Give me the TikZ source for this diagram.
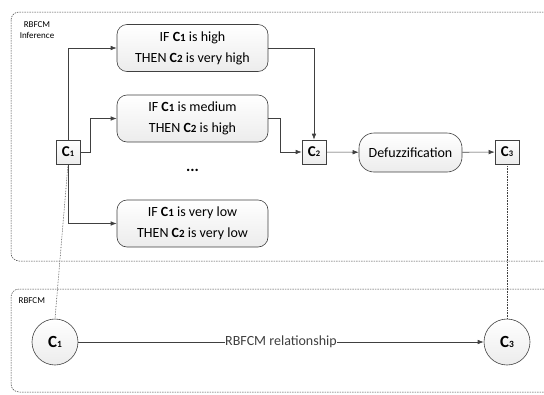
\documentclass[tikz,border=0pt]{standalone}
\usepackage{fontspec}
\setmainfont{Carlito}
\usepackage{xcolor}
\usepackage{tikz}
\usetikzlibrary{arrows.meta,shapes}
\definecolor{lnc}{HTML}{404040}
\newcommand\Cvar[2][11]{\textbf{C{\fontsize{#1}{#1}\selectfont #2}}}

\begin{document}
\begin{tikzpicture}[x=1pt,y=-1pt,>={Latex[length=6pt,width=4.5pt]},line width=0.6pt,
 region/.style={draw=lnc,dash pattern=on 1.5pt off 1pt,line width=0.5pt,rounded corners=8pt},
 rule/.style={draw=lnc,rounded corners=10pt,top color=white,bottom color=gray!15,
  minimum width=151pt,minimum height=47pt,align=center,font=\fontsize{14}{21}\selectfont},
 sq/.style={draw=lnc,top color=white,bottom color=gray!15,minimum size=24pt,inner sep=0pt,
  font=\fontsize{15}{15}\selectfont},
 circ/.style={circle,draw=lnc,top color=white,bottom color=gray!15,minimum size=46pt,inner sep=0pt,
  font=\fontsize{17}{17}\selectfont},
 small/.style={font=\fontsize{9}{11}\selectfont}]
\useasboundingbox (0,0) rectangle (544,394);
% regions
\draw[region](11,12) rectangle (580,261);
\draw[region](11,289) rectangle (580,392);
\node[small,align=center,anchor=north] (lbinf) at (37,18) {RBFCM\\Inference};
\node[small,anchor=west] (lbmap) at (15,301) {RBFCM};
% inference
\node[sq] (c1) at (68,152) {\Cvar[8.5]{1}};
\node[rule] (r1) at (192.5,48) {IF \Cvar{1} is high\\THEN \Cvar{2} is very high};
\node[rule] (r2) at (192.5,118.5) {IF \Cvar{1} is medium\\THEN \Cvar{2} is high};
\node[font=\fontsize{16}{16}\selectfont\bfseries] (dots) at (192.5,170) {...};
\node[rule] (r3) at (192.5,223.5) {IF \Cvar{1} is very low\\THEN \Cvar{2} is very low};
\node[sq] (c2) at (314,152) {\Cvar[8.5]{2}};
\node[sq,rounded corners=15pt,minimum width=103pt,minimum height=39pt,font=\fontsize{14}{16}\selectfont] (defuzz) at (410.5,152.5) {Defuzzification};
\node[sq] (c3) at (507,152) {\Cvar[8.5]{3}};
\draw[lnc,->](c1.north) |- (r1.west);
\draw[lnc,->](c1.east) -- ++(10,0) |- (r2.west);
\draw[lnc,->](c1.south) |- (r3.west);
\draw[lnc,->](r1.east) -| (c2.north);
\draw[lnc,->](r2.east) -- ++(12,0) |- (c2.west);
\draw[lnc,->](c2) -- (defuzz);
\draw[lnc,->](defuzz) -- (c3);
% map
\node[circ] (k1) at (55,342) {\Cvar[9.5]{1}};
\node[circ] (k3) at (507,342) {\Cvar[9.5]{3}};
\draw[lnc,->](k1) -- node[fill=white,inner sep=0.5pt,font=\fontsize{14}{16}\selectfont]{RBFCM relationship} (k3);
\draw[lnc,densely dotted](c1.south) -- (k1.north);
\draw[lnc,densely dotted](c3.south) -- (k3.north);
\end{tikzpicture}
\end{document}
